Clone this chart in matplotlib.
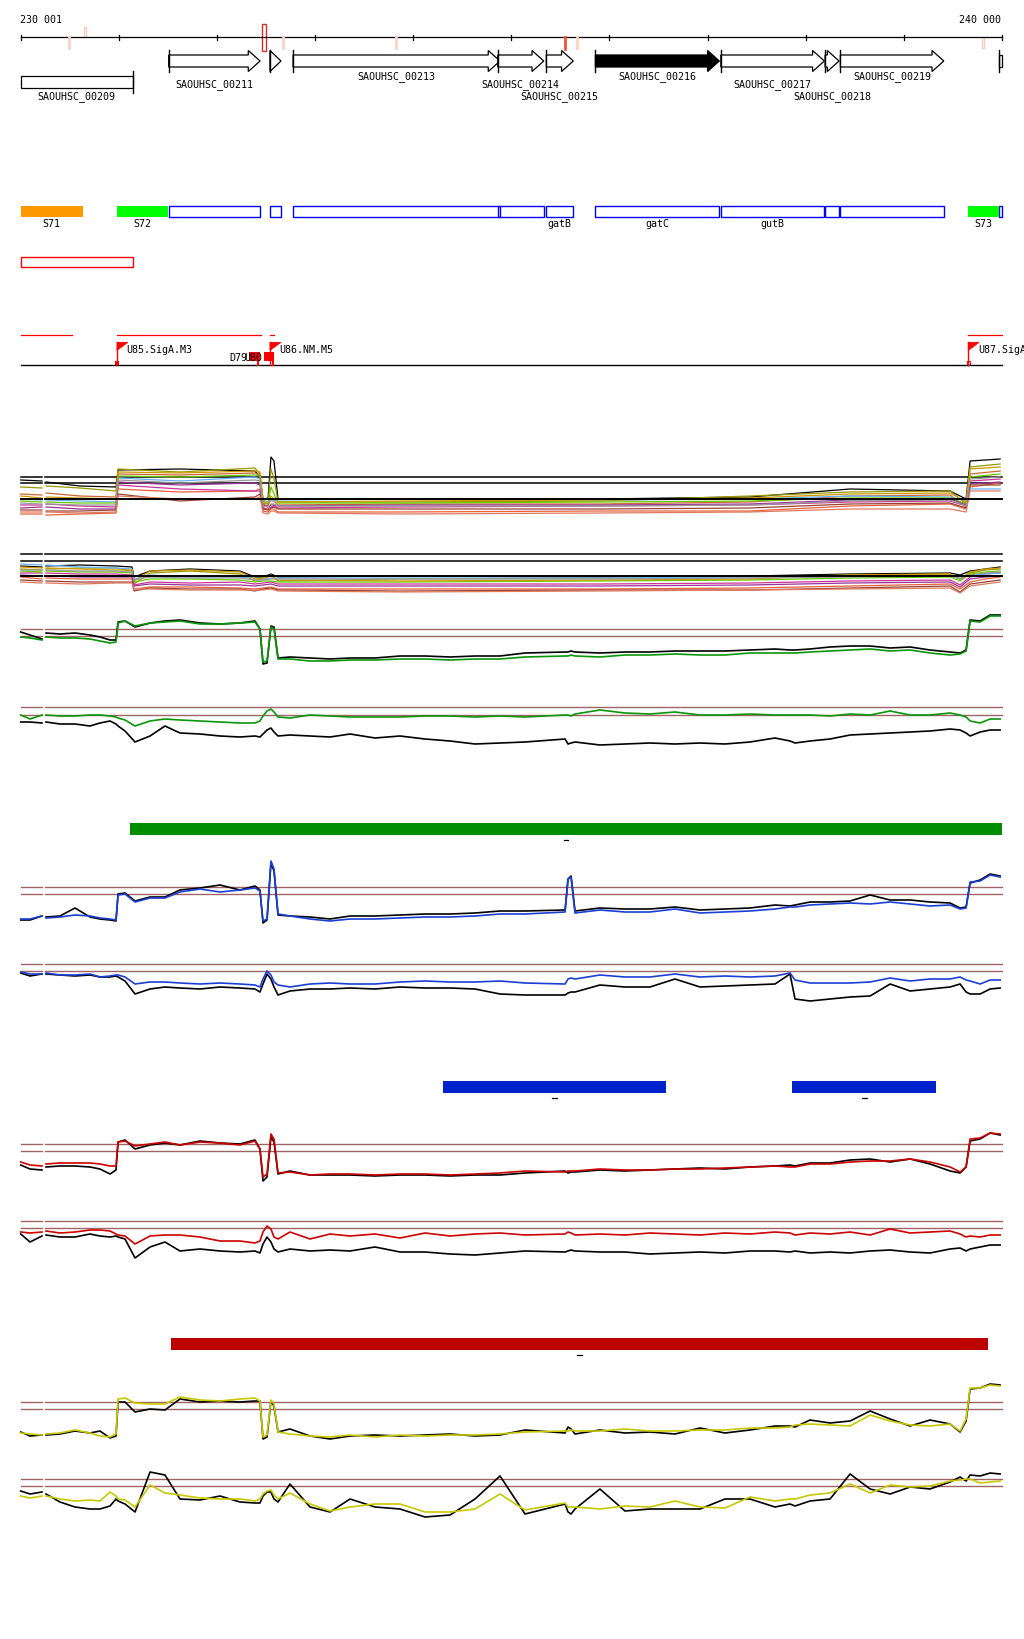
import matplotlib
matplotlib.use("Agg")
import matplotlib.pyplot as plt
from matplotlib.patches import Rectangle, Polygon
import numpy as np

nan = np.nan

# view of the genome and where it lands in the picture
W, H = 1024, 1640
VIEW_START, VIEW_END = 230001, 240000
PX_START, PX_END = 20.7, 1002.0
BP_PER_PX = (VIEW_END - VIEW_START) / (PX_END - PX_START)
XLIM = (VIEW_START - PX_START * BP_PER_PX, VIEW_START + (W - PX_START) * BP_PER_PX)
GAP = (230220, 230249)  # hole in every profile track

FONT = dict(family="DejaVu Sans Mono", fontsize=7.2, color="black")

# ---------------- annotation data ----------------
ruler_ticks = [230001, 231000, 232000, 233000, 234000, 235000, 236000, 237000, 238000, 239000, 240000]
mark_pos = [230496, 230661, 232480, 232671, 233822, 235545, 235673, 239807]
mark_kind = ["pale", "pale_up", "box", "pale", "pale", "strong", "pale", "pale_hollow"]

gene_names = ["SAOUHSC_00209", "SAOUHSC_00211", "", "SAOUHSC_00213", "SAOUHSC_00214", "SAOUHSC_00215",
              "SAOUHSC_00216", "SAOUHSC_00217", "SAOUHSC_00218", "SAOUHSC_00219", ""]
gene_alias = ["", "", "", "", "", "gatB", "gatC", "gutB", "", "", ""]
gene_start = [229400, 231509, 232541, 232776, 234862, 235357, 235857, 237135, 238197, 238353, 239970]
gene_end = [231142, 232440, 232653, 234885, 235331, 235632, 237120, 238190, 238340, 239407, 240600]
gene_strand = [-1, 1, 1, 1, 1, 1, 1, 1, 1, 1, 1]
gene_label_row = [2, 1, 0, 0, 1, 2, 0, 1, 2, 0, 0]

srna_names = ["S71", "S72", "S73"]
srna_start = [229900, 230982, 239651]
srna_end = [230636, 231502, 239967]
srna_colors = ["#FF9900", "#00FF00", "#00FF00"]

tu_start = [229800, 230982, 232541, 239651]
tu_end = [230520, 232447, 232579, 240300]

promoter_names = ["U85.SigA.M3", "U86.NM.M5", "U87.SigA.M3"]
promoter_pos = [230982, 232541, 239656]
promoter_foot = ["filled", "none", "hollow"]

site_names = ["D79", "U80"]
site_start = [232330, 232482]
site_end = [232435, 232583]

bar_start = [231115, 234308, 237864, 231533]
bar_end = [240000, 236574, 239329, 239855]
bar_colors = ["#008C00", "#0022CC", "#0022CC", "#BB0000"]

# ---------------- profile data ----------------
prof_pos = [230001, 230096, 230218, 230238, 230259, 230401, 230554, 230707, 230809, 230911,
            230972, 230993, 231064, 231166, 231319, 231471, 231624, 231828, 232032, 232235,
            232388, 232439, 232470, 232511, 232551, 232582, 232623, 232745, 232949, 233153,
            233357, 233611, 233866, 234121, 234376, 234630, 234885, 235140, 235548, 235578,
            235609, 235649, 235903, 236158, 236413, 236668, 236923, 237177, 237432, 237687,
            237840, 237891, 238044, 238248, 238452, 238656, 238860, 239064, 239267, 239471,
            239573, 239634, 239675, 239777, 239879, 239981]

c_green = [32, 31, 29, nan, 32, 31, 31, 30, 28, 26, 27, 46, 48, 43, 46, 47, 48, 45, 45, 46,
           47, 40, 7, 8, 42, 40, 10, 10, 8, 8, 9, 9, 10, 10, 9, 10, 10, 12, 13, 13,
           14, 13, 12, 14, 14, 15, 14, 14, 16, 16, 16, 16, 17, 18, 19, 20, 18, 19, 16, 14,
           15, 18, 48, 47, 53, 53]
c_black = [37, 34, 30, nan, 36, 35, 36, 34, 32, 29, 29, 47, 48, 42, 46, 48, 49, 46, 45, 46,
           48, 40, 5, 6, 43, 42, 11, 12, 11, 10, 11, 11, 13, 13, 12, 13, 13, 16, 17, 17,
           18, 17, 16, 17, 17, 18, 18, 18, 19, 20, 19, 19, 20, 22, 23, 23, 21, 22, 19, 17,
           16, 19, 49, 48, 54, 54]
c_refs = [39.7, 32.7]

d_green = [44, 40, 44, nan, 44, 43, 43, 44, 44, 43, 42, 41, 39, 33, 38, 40, 39, 38, 37, 36,
           36, 38, 43, 48, 50, 47, 42, 41, 44, 43, 42, 42, 42, 43, 43, 42, 43, 42, 44, 44,
           43, 45, 49, 46, 45, 47, 44, 44, 45, 44, 44, 44, 44, 43, 45, 44, 48, 44, 44, 46,
           44, 42, 38, 36, 40, 40]
d_black = [37, 37, 36, nan, 37, 35, 35, 33, 36, 38, 35, 33, 28, 17, 23, 33, 26, 25, 23, 22,
           23, 22, 25, 29, 31, 27, 23, 24, 23, 22, 25, 21, 23, 20, 18, 15, 16, 17, 20, 15,
           16, 17, 14, 15, 16, 15, 16, 15, 17, 21, 18, 16, 18, 20, 24, 25, 26, 27, 28, 30,
           29, 26, 23, 27, 29, 29]
d_refs = [51.7, 44.3]

e_blue = [10, 10, 13, nan, 11, 12, 14, 13, 11, 10, 9, 34, 35, 27, 31, 31, 37, 40, 37, 39,
          41, 38, 8, 10, 68, 60, 15, 13, 10, 8, 10, 10, 11, 12, 12, 13, 15, 15, 17, 50,
          52, 16, 19, 17, 17, 20, 16, 17, 18, 20, 22, 22, 24, 25, 26, 25, 27, 25, 23, 24,
          20, 21, 47, 48, 54, 52]
e_black = [9, 9, 13, nan, 12, 13, 21, 12, 10, 9, 8, 35, 36, 28, 32, 32, 39, 41, 44, 39,
           43, 39, 6, 9, 66, 58, 14, 13, 12, 10, 13, 13, 14, 15, 15, 16, 18, 18, 19, 50,
           53, 18, 21, 20, 20, 22, 19, 20, 21, 24, 23, 24, 27, 27, 28, 34, 29, 29, 27, 26,
           21, 22, 46, 49, 55, 53]
e_refs = [41.7, 34.7]

f_blue = [37, 35, 35, nan, 36, 34, 34, 35, 32, 33, 34, 34, 32, 25, 27, 27, 26, 25, 26, 25,
          24, 22, 30, 38, 34, 27, 24, 22, 25, 26, 25, 25, 27, 28, 27, 27, 28, 26, 25, 30,
          31, 30, 34, 32, 32, 35, 32, 33, 32, 33, 36, 29, 26, 26, 26, 27, 31, 28, 30, 30,
          32, 29, 28, 25, 29, 29]
f_black = [36, 33, 35, nan, 35, 34, 33, 34, 32, 32, 33, 32, 28, 15, 20, 22, 21, 20, 22, 21,
           20, 17, 25, 35, 30, 22, 14, 18, 20, 20, 21, 20, 22, 21, 21, 20, 15, 14, 14, 16,
           17, 17, 24, 22, 22, 30, 22, 23, 24, 25, 35, 10, 8, 10, 12, 13, 25, 18, 20, 22,
           25, 17, 15, 15, 20, 21]
f_refs = [44.7, 37.7]

g_red = [27, 24, 23, nan, 25, 26, 26, 26, 25, 23, 23, 47, 48, 43, 45, 47, 44, 47, 46, 44,
         48, 40, 12, 15, 55, 50, 16, 17, 14, 15, 15, 14, 15, 15, 14, 15, 16, 18, 17, 18,
         18, 18, 20, 19, 19, 20, 20, 21, 22, 23, 22, 22, 25, 25, 27, 28, 28, 30, 27, 22,
         17, 22, 50, 51, 56, 55]
g_black = [24, 20, 19, nan, 22, 23, 23, 22, 20, 15, 19, 47, 49, 40, 44, 46, 44, 48, 46, 45,
           49, 40, 8, 12, 52, 47, 15, 18, 14, 14, 14, 13, 14, 14, 13, 14, 14, 16, 18, 16,
           17, 17, 19, 18, 19, 20, 21, 20, 22, 23, 24, 23, 26, 26, 29, 30, 27, 30, 25, 18,
           16, 22, 48, 50, 56, 54]
g_refs = [44.7, 37.7]

h_red = [37, 36, 37, nan, 38, 36, 37, 39, 39, 38, 35, 34, 33, 25, 33, 34, 34, 32, 28, 28,
         26, 28, 37, 43, 40, 32, 30, 37, 30, 35, 33, 35, 31, 36, 33, 35, 36, 34, 35, 37,
         36, 34, 35, 34, 36, 35, 34, 36, 35, 37, 36, 34, 36, 35, 37, 34, 40, 36, 37, 38,
         35, 32, 33, 32, 34, 34]
h_black = [35, 27, 33, nan, 34, 32, 32, 35, 33, 32, 33, 32, 30, 11, 22, 27, 18, 20, 18, 17,
           18, 16, 25, 32, 27, 20, 17, 20, 18, 19, 18, 22, 17, 17, 15, 14, 16, 18, 17, 18,
           19, 18, 17, 17, 15, 16, 17, 16, 18, 18, 17, 18, 16, 17, 16, 18, 19, 17, 16, 20,
           21, 18, 20, 22, 24, 24]
h_refs = [47.7, 40.7]

i_yellow = [11, 10, 9, nan, 10, 11, 14, 11, 8, 7, 10, 45, 46, 41, 40, 40, 47, 44, 43, 45,
            46, 43, 7, 9, 44, 40, 12, 10, 8, 7, 9, 7, 9, 8, 9, 9, 10, 12, 13, 13,
            14, 13, 13, 15, 13, 13, 14, 14, 16, 16, 17, 19, 20, 19, 18, 29, 23, 19, 18, 20,
            13, 25, 56, 56, 59, 58]
i_black = [12, 8, 9, nan, 9, 10, 13, 11, 13, 6, 8, 42, 42, 32, 35, 34, 45, 42, 43, 42,
           43, 43, 5, 7, 43, 38, 12, 15, 8, 5, 8, 9, 8, 9, 10, 8, 9, 14, 11, 17,
           15, 10, 14, 11, 12, 10, 16, 11, 14, 18, 18, 17, 24, 21, 23, 33, 25, 18, 24, 20,
           12, 23, 55, 56, 60, 59]
i_refs = [41.7, 35.0]

j_yellow = [23, 21, 23, nan, 23, 20, 18, 19, 18, 27, 23, 20, 19, 12, 34, 26, 24, 21, 20, 20,
            18, 20, 25, 28, 29, 24, 20, 26, 15, 8, 12, 15, 15, 7, 7, 10, 25, 9, 16, 12,
            12, 12, 10, 13, 12, 18, 12, 11, 22, 18, 20, 20, 24, 26, 35, 26, 34, 32, 33, 38,
            39, 40, 40, 36, 37, 38]
j_black = [28, 25, 27, nan, 25, 17, 12, 10, 10, 13, 20, 18, 15, 7, 47, 44, 20, 19, 23, 17,
           16, 16, 23, 27, 27, 20, 17, 35, 12, 7, 20, 12, 10, 2, 4, 20, 43, 5, 15, 7,
           5, 10, 30, 8, 10, 10, 10, 20, 20, 12, 15, 13, 18, 20, 45, 30, 25, 32, 30, 37,
           42, 38, 44, 43, 46, 45]
j_refs = [39.7, 32.7]

# multi-sample bundles
bundle_a_pos = [230001, 230218, 230238, 230259, 230605, 230972, 230993, 231624, 232388, 232439,
                232470, 232521, 232551, 232582, 232623, 233866, 235903, 237432, 238452, 239471,
                239634, 239675, 239981]
bundle_a_lines = [
    [39, 38, nan, 37, 33, 32, 49, 50, 48, 42, 20, 20, 62, 58, 20, 20, 20, 22, 30, 28, 20, 58, 60],
    [32, 31, nan, 33, 31, 28, 50, 47, 51, 45, 18, 15, 50, 40, 17, 17, 18, 23, 27, 28, 15, 52, 55],
    [25, 24, nan, 26, 23, 22, 45, 44, 46, 44, 15, 13, 20, 18, 14, 15, 15, 17, 23, 24, 12, 45, 48],
    [5, 5, nan, 4, 5, 6, 30, 27, 28, 30, 8, 7, 10, 10, 7, 7, 8, 8, 13, 15, 10, 32, 36],
    [14, 14, nan, 15, 13, 12, 34, 30, 28, 28, 11, 10, 12, 13, 11, 12, 13, 14, 17, 18, 13, 38, 40],
    [20, 19, nan, 19, 18, 17, 41, 38, 42, 40, 19, 17, 18, 18, 19, 20, 19, 20, 23, 22, 18, 30, 30],
    [18, 17, nan, 17, 16, 16, 43, 42, 44, 43, 16, 15, 32, 25, 16, 16, 17, 18, 21, 21, 15, 42, 45],
    [11, 12, nan, 12, 10, 10, 37, 34, 36, 34, 14, 12, 14, 14, 13, 14, 14, 15, 19, 20, 14, 35, 37],
    [9, 9, nan, 8, 8, 9, 25, 18, 22, 25, 10, 9, 11, 12, 10, 10, 10, 11, 15, 16, 11, 34, 34],
    [23, 21, nan, 22, 21, 20, 47, 46, 48, 47, 17, 15, 23, 20, 17, 18, 19, 21, 25, 26, 17, 50, 52],
    [16, 15, nan, 15, 14, 14, 39, 36, 39, 38, 13, 12, 15, 15, 13, 13, 13, 14, 18, 19, 13, 40, 42],
    [7, 7, nan, 7, 6, 7, 23, 20, 20, 22, 6, 5, 8, 8, 6, 5, 6, 7, 10, 10, 7, 28, 28],
]
bundle_a_colors = ["black", "#999900", "#CC6633", "#E8603C", "#CC3399", "#66B2FF",
                   "#66CC00", "#993399", "#994433", "#CC9900", "#999999", "#E07A5F"]
bundle_a_refs = [41.7, 35.7, 20.0]

bundle_b_pos = [230001, 230218, 230238, 230259, 230605, 230972, 231135, 231156, 231319, 231726,
                232235, 232388, 232470, 232551, 232623, 233866, 235903, 237432, 238452, 239471,
                239573, 239675, 239827, 239981]
bundle_b_lines = [
    [33, 32, nan, 33, 34, 33, 32, 22, 28, 30, 28, 22, 22, 25, 22, 23, 22, 23, 25, 26, 24, 28, 30, 32],
    [30, 29, nan, 30, 31, 31, 28, 15, 26, 28, 25, 18, 20, 24, 18, 20, 21, 22, 24, 25, 20, 26, 29, 30],
    [22, 20, nan, 21, 20, 20, 20, 10, 12, 12, 11, 10, 11, 12, 10, 10, 10, 11, 13, 15, 10, 17, 20, 22],
    [26, 26, nan, 26, 25, 25, 24, 14, 17, 16, 17, 15, 16, 17, 15, 15, 15, 16, 18, 19, 14, 22, 25, 26],
    [35, 34, nan, 34, 32, 31, 30, 20, 24, 22, 22, 21, 20, 21, 21, 21, 21, 22, 23, 23, 22, 23, 25, 26],
    [28, 27, nan, 28, 27, 27, 26, 17, 20, 20, 19, 17, 18, 18, 17, 17, 18, 19, 21, 22, 18, 25, 27, 28],
    [19, 18, nan, 18, 17, 17, 17, 8, 11, 10, 10, 8, 10, 11, 9, 8, 9, 9, 11, 13, 7, 15, 17, 19],
    [32, 31, nan, 31, 30, 29, 29, 18, 28, 29, 27, 20, 21, 23, 19, 18, 19, 20, 24, 25, 20, 27, 30, 31],
    [24, 23, nan, 23, 22, 22, 22, 13, 15, 14, 14, 13, 14, 15, 13, 13, 13, 14, 16, 17, 12, 20, 22, 23],
    [29, 29, nan, 29, 28, 28, 27, 19, 22, 21, 21, 19, 19, 20, 20, 20, 20, 21, 22, 23, 20, 24, 26, 27],
    [17, 16, nan, 16, 15, 16, 16, 10, 10, 9, 9, 9, 9, 10, 8, 7, 8, 9, 10, 11, 6, 13, 15, 17],
]
bundle_b_colors = ["black", "#999900", "#E8603C", "#CC3399", "#66B2FF", "#66CC00",
                   "#994433", "#CC9900", "#993399", "#999999", "#E07A5F"]
bundle_b_refs = [45.0, 37.7, 23.0]


def band(fig, top, bottom, ylim):
    ax = fig.add_axes([0, 1 - bottom / H, 1, (bottom - top) / H])
    ax.set_xlim(*XLIM)
    ax.set_ylim(*ylim)
    ax.axis("off")
    ax.patch.set_visible(False)
    return ax


def ref_lines(ax, levels, color, lw=0.9):
    xs = [VIEW_START, GAP[0], nan, GAP[1], VIEW_END]
    for lv in levels:
        ax.plot(xs, [lv] * 5, color=color, lw=lw)


def gene_shape(start, end, strand, yc, body, head):
    s, e = max(start, VIEW_START), min(end, VIEW_END)
    hl = min(120, end - start)
    if strand > 0 and end <= VIEW_END:
        neck = end - hl
        return [(s, yc - body), (neck, yc - body), (neck, yc - head), (end, yc),
                (neck, yc + head), (neck, yc + body), (s, yc + body)]
    if strand < 0 and start >= VIEW_START:
        neck = start + hl
        return [(e, yc - body), (neck, yc - body), (neck, yc - head), (start, yc),
                (neck, yc + head), (neck, yc + body), (e, yc + body)]
    return [(s, yc - body), (e, yc - body), (e, yc + body), (s, yc + body)]


fig = plt.figure(figsize=(W / 100, H / 100), dpi=100)
fig.patch.set_facecolor("white")

# one track axes for the annotation part, y in picture rows
trk = band(fig, 0, H, (H, 0))

# ruler
trk.plot([VIEW_START, VIEW_END], [38.3, 38.3], color="black", lw=0.9)
for t in ruler_ticks:
    trk.plot([t, t], [35.5, 41.2], color="black", lw=0.9)
trk.text(VIEW_START - 8, 20.3, "230 001", ha="left", va="center", **FONT)
trk.text(VIEW_END - 15, 20.3, "240 000", ha="right", va="center", **FONT)
for p, kind in zip(mark_pos, mark_kind):
    if kind == "box":
        trk.add_patch(Rectangle((p - 17, 25), 34, 26.5, fc="none", ec="#D03030", lw=1.0))
    elif kind == "pale_up":
        trk.add_patch(Rectangle((p - 10, 28), 20, 10, fc="none", ec="#F7C9B8", lw=0.9))
    elif kind == "strong":
        trk.plot([p, p], [38.3, 49.5], color="#EE5533", lw=2.0)
    elif kind == "pale_hollow":
        trk.add_patch(Rectangle((p - 10, 38.3), 20, 11, fc="none", ec="#F7C9B8", lw=0.9))
    else:
        trk.plot([p, p], [38.3, 49.0], color="#F9D3C4", lw=2.0)

# genes with arrows
LABEL_Y = {0: 76.3, 1: 85.0, 2: 97.0}
for name, s, e, st, row in zip(gene_names, gene_start, gene_end, gene_strand, gene_label_row):
    yc = 62.0 if st > 0 else 83.0
    fc = "black" if name == "SAOUHSC_00216" else "white"
    trk.add_patch(Polygon(gene_shape(s, e, st, yc, 6.0, 10.5), closed=True,
                          fc=fc, ec="black", lw=0.9, joinstyle="miter"))
    edge = s if st > 0 else e
    if VIEW_START <= edge <= VIEW_END:
        trk.plot([edge, edge], [yc - 10.8, yc + 10.8], color="black", lw=1.0)
    if name:
        xc = (max(s, VIEW_START) + min(e, VIEW_END)) / 2
        trk.text(xc, LABEL_Y[row], name, ha="center", va="center", **FONT)

# feature row: forward genes in blue, small RNAs filled
for s, e, st, alias in zip(gene_start, gene_end, gene_strand, gene_alias):
    if st < 0:
        continue
    s2, e2 = max(s, VIEW_START), min(e, VIEW_END)
    trk.add_patch(Rectangle((s2, 207.3), e2 - s2, 10.3, fc="none", ec="#0000FF", lw=1.0))
    if alias:
        trk.text((s2 + e2) / 2, 224.2, alias, ha="center", va="center", **FONT)
for name, s, e, c in zip(srna_names, srna_start, srna_end, srna_colors):
    s2, e2 = max(s, VIEW_START), min(e, VIEW_END)
    trk.add_patch(Rectangle((s2, 207.0), e2 - s2, 10.8, fc=c, ec="none"))
    trk.text((s2 + e2) / 2, 224.2, name, ha="center", va="center", **FONT)

# reverse-strand row
for s, e, st in zip(gene_start, gene_end, gene_strand):
    if st > 0:
        continue
    s2, e2 = max(s, VIEW_START), min(e, VIEW_END)
    trk.add_patch(Rectangle((s2, 258.3), e2 - s2, 10, fc="none", ec="#FF0000", lw=1.0))

# transcription units, promoters and sites
for s, e in zip(tu_start, tu_end):
    trk.plot([max(s, VIEW_START), min(e, VIEW_END)], [336, 336], color="#FF0000", lw=0.9)
trk.plot([VIEW_START, VIEW_END], [366.2, 366.2], color="black", lw=1.0)
flag_w = 11 * BP_PER_PX
for name, p, foot in zip(promoter_names, promoter_pos, promoter_foot):
    trk.plot([p, p], [343.3, 366.2], color="#FF0000", lw=1.0)
    trk.add_patch(Polygon([(p, 343.3), (p + flag_w, 343.3), (p, 351.5)], closed=True,
                          fc="#FF0000", ec="#FF0000", lw=0.5))
    if foot == "filled":
        trk.add_patch(Rectangle((p - 16, 362), 34, 4.2, fc="#FF0000", ec="none"))
    elif foot == "hollow":
        trk.add_patch(Rectangle((p - 16, 362), 34, 4.2, fc="none", ec="#FF0000", lw=0.8))
    trk.text(p + 9.7 * BP_PER_PX, 350.0, name, ha="left", va="center", clip_on=False, **FONT)
for name, s, e in zip(site_names, site_start, site_end):
    trk.add_patch(Rectangle((s, 352.7), e - s, 9.3, fc="#FF0000", ec="none"))
    trk.plot([e - 15, e - 15], [362, 366.2], color="#FF0000", lw=1.5)
    trk.text(s - 15, 357.7, name, ha="right", va="center", **FONT)

# signal bars with their small marks
bar_tops = [824.0, 1082.0, 1082.0, 1339.0]
for s, e, c, top in zip(bar_start, bar_end, bar_colors, bar_tops):
    trk.add_patch(Rectangle((s, top), e - s, 11.7, fc=c, ec="none"))
    mid = (s + e) / 2
    trk.plot([mid - 23, mid + 23], [top + 17.3, top + 17.3], color="black", lw=0.9)

# ---------------- bundles ----------------
ax_a = band(fig, 440, 520, (0, 80))
ref_lines(ax_a, bundle_a_refs[:2], "black", 1.1)
for vals, c in zip(bundle_a_lines, bundle_a_colors):
    ax_a.plot(bundle_a_pos, vals, color=c, lw=0.9)
ref_lines(ax_a, bundle_a_refs[2:], "black", 1.4)

ax_b = band(fig, 540, 600, (0, 60))
ref_lines(ax_b, bundle_b_refs[:2], "black", 1.1)
for vals, c in zip(bundle_b_lines, bundle_b_colors):
    ax_b.plot(bundle_b_pos, vals, color=c, lw=0.9)
ref_lines(ax_b, bundle_b_refs[2:], "black", 1.4)

# ---------------- paired profiles ----------------
BROWN = "#A06464"
panels = [
    (600, 670, c_green, c_black, c_refs, "#0A960A"),
    (690, 760, d_green, d_black, d_refs, "#0A960A"),
    (850, 930, e_blue, e_black, e_refs, "#1A3FD6"),
    (955, 1010, f_blue, f_black, f_refs, "#1A3FD6"),
    (1120, 1190, g_red, g_black, g_refs, "#CC0000"),
    (1210, 1270, h_red, h_black, h_refs, "#CC0000"),
    (1370, 1445, i_yellow, i_black, i_refs, "#C8C800"),
    (1460, 1520, j_yellow, j_black, j_refs, "#C8C800"),
]
for top, bottom, col_vals, blk_vals, refs, col in panels:
    ax = band(fig, top, bottom, (0, bottom - top))
    ref_lines(ax, refs, BROWN, 1.0)
    ax.plot(prof_pos, blk_vals, color="black", lw=1.2)
    ax.plot(prof_pos, col_vals, color=col, lw=1.2)

fig.savefig("out.png", dpi=100, facecolor="white")
